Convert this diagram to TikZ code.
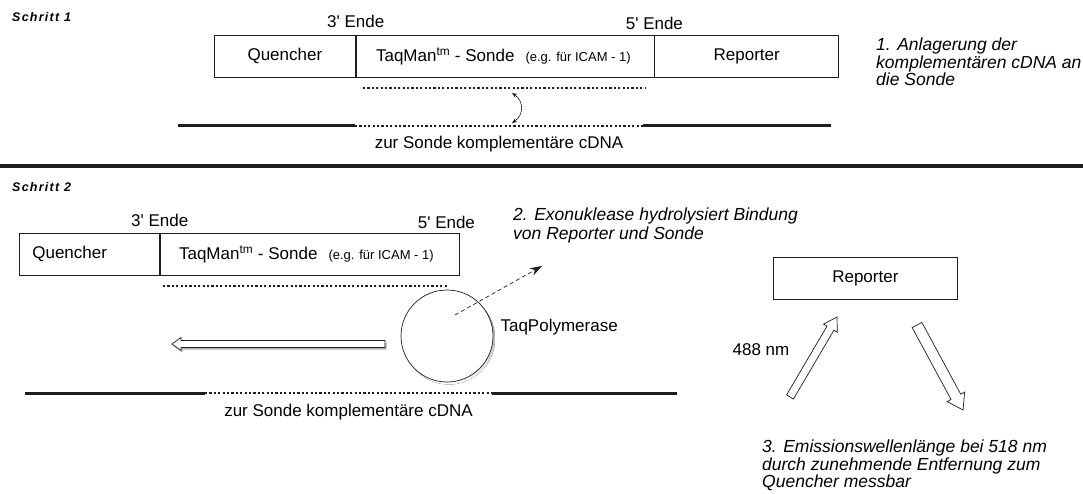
\documentclass[tikz,border=0pt]{standalone}
\usepackage{fontspec}
\setmainfont{Liberation Sans}
\usetikzlibrary{arrows.meta,positioning,calc}
\definecolor{ink}{HTML}{1E1E1E}
\definecolor{shade}{HTML}{B4B4B4}
\newcommand{\fsN}{\fontsize{17}{17.5}\selectfont}
\newcommand{\fsI}{\fontsize{17.5}{17.5}\selectfont\itshape}
\newcommand{\fsS}{\fontsize{13}{15}\selectfont}
\newcommand{\fsT}{\fontsize{12.5}{14}\selectfont\bfseries\itshape\addfontfeature{LetterSpace=10}}
\newcommand{\sonde}{TaqMan\textsuperscript{tm} - Sonde\hspace{11pt}{\fsS(e.g. für ICAM - 1)}}

% hollow block arrow: [style]{from}{to}{shaft half width}{head half width}{head length}
\newcommand{\hollowarrow}[6][hollow]{%
  \coordinate (#3-base) at ($(#3)!#6!(#2)$);
  \draw[#1] ($(#2)!#4!90:(#3)$) -- ($(#3-base)!#4!-90:(#2)$) -- ($(#3-base)!#5!-90:(#2)$)
    -- (#3) -- ($(#3-base)!#5!90:(#2)$) -- ($(#3-base)!#4!90:(#2)$) -- ($(#2)!#4!-90:(#3)$) -- cycle;}

\begin{document}
\begin{tikzpicture}[x=1pt, y=-1pt,
  box/.style={draw=ink, line width=0.7pt, minimum height=42pt, inner sep=0pt, font=\fsN},
  lab/.style={inner sep=0pt, font=\fsN},
  note/.style={inner sep=0pt, font=\fsI, align=left, anchor=north west},
  stepl/.style={inner sep=0pt, font=\fsT, anchor=west},
  strand/.style={ink, line width=3pt},
  probe/.style={ink, line width=1.3pt, dash pattern=on 2.2pt off 2.2pt},
  pair/.style={{Stealth[length=5pt,width=4pt]}-{Stealth[length=5pt,width=4pt]}, ink, line width=0.6pt},
  cutarr/.style={-{Stealth[length=12pt,width=8pt]}, ink, line width=0.7pt, dash pattern=on 4pt off 3pt},
  hollow/.style={draw=ink, fill=white, line width=0.7pt, line join=miter},
  shadowed/.style={draw=none, fill=shade, transform canvas={shift={(1.5,2)}}}]

\useasboundingbox (0,0) rectangle (1083,494);

% ================================================================ Schritt 1
\node[stepl] (s1) at (12,17) {Schritt 1};

% ---- probe with quencher and reporter ---------------------------------
\node[box, minimum width=141pt, anchor=north west] (q1) at (214,35) {Quencher};
\node[box, minimum width=298pt, anchor=west, inner xsep=20pt]
  (t1) at (q1.east) {\makebox[258pt][l]{\sonde}};
\node[box, minimum width=184pt, anchor=west] (r1) at (t1.east) {Reporter};
\node[lab, above=7pt of q1.north east] (e31) {3\textquotesingle{} Ende};
\node[lab, above=5pt of t1.north east] (e51) {5\textquotesingle{} Ende};

% ---- strands ------------------------------------------------------------
\coordinate (u1a) at (363,88);  \coordinate (u1b) at (645,88);
\coordinate (c1a) at (178,126); \coordinate (c1b) at (355,126);
\coordinate (c1c) at (643,126); \coordinate (c1d) at (831,126);
\draw[probe] (u1a) -- (u1b);
\draw[strand] (c1a) -- (c1b);
\draw[probe] (c1b) -- (c1c);
\draw[strand] (c1c) -- (c1d);
\node[lab, below=10pt] (cdna1) at ($(c1b)!0.5!(c1c)$) {zur Sonde komplementäre cDNA};

\coordinate (h1t) at (512,93); \coordinate (h1b) at (512,123);
\draw[pair] (h1t) .. controls (524,101) and (524,115) .. (h1b);

\node[note] (n1) at (876,38) {1. Anlagerung der\\komplementären cDNA an\\die Sonde};

% ---- separator ----------------------------------------------------------
\coordinate (sepl) at (0,166); \coordinate (sepr) at (1083,166);
\draw[ink, line width=4pt] (sepl) -- (sepr);

% ================================================================ Schritt 2
\node[stepl] (s2) at (12,187) {Schritt 2};

\node[box, minimum width=140pt, anchor=north west, inner xsep=13pt]
  (q2) at (19,233) {\makebox[114pt][l]{Quencher}};
\node[box, minimum width=299pt, anchor=west, inner xsep=19pt]
  (t2) at (q2.east) {\makebox[261pt][l]{\sonde}};
\node[lab, above=6pt of q2.north east] (e32) {3\textquotesingle{} Ende};
\node[lab, above=4pt of t2.north east, xshift=-13pt] (e52) {5\textquotesingle{} Ende};

\coordinate (u2a) at (163,286); \coordinate (u2b) at (447,286);
\draw[probe] (u2a) -- (u2b);

% ---- polymerase -----------------------------------------------------------
\coordinate (polc) at (447,336);
\fill[shade] ($(polc)+(2,2.5)$) circle[radius=46];
\node[circle, draw=ink, fill=white, line width=0.7pt, minimum size=92pt, inner sep=0pt] (taq) at (polc) {};
\node[lab, right=7pt of taq.east, yshift=9pt] (taql) {TaqPolymerase};
\coordinate (exo) at (542,266);
\draw[cutarr] ($(taq.center)+(8,-21)$) -- (exo);

\coordinate (mva) at (385,344); \coordinate (mvb) at (172,344);
\hollowarrow[shadowed]{mva}{mvb}{3.5pt}{6.5pt}{9pt}
\hollowarrow{mva}{mvb}{3.5pt}{6.5pt}{9pt}

\coordinate (c2a) at (25,393);  \coordinate (c2b) at (205,393);
\coordinate (c2c) at (492,393); \coordinate (c2d) at (677,393);
\draw[strand] (c2a) -- (c2b);
\draw[probe] (c2b) -- (c2c);
\draw[strand] (c2c) -- (c2d);
\node[lab, below=10.5pt] (cdna2) at ($(c2b)!0.5!(c2c)$) {zur Sonde komplementäre cDNA};

\node[note] (n2) at (513,208) {2. Exonuklease hydrolysiert Bindung\\[1.5pt]von Reporter und Sonde};

% ---- free reporter ----------------------------------------------------------
\node[box, minimum width=184pt, anchor=north west] (r2) at (773,257) {Reporter};
\coordinate (exa) at (790,397); \coordinate (exb) at (837,317);
\hollowarrow{exa}{exb}{4pt}{8pt}{13pt}
\coordinate (ema) at (917,325); \coordinate (emb) at (963,410);
\hollowarrow{ema}{emb}{5.5pt}{10pt}{15pt}
\node[lab] (ex) at (761,350) {488 nm};

\node[note] (n3) at (762,440) {3. Emissionswellenlänge bei 518 nm\\durch zunehmende Entfernung zum\\Quencher messbar};

\end{tikzpicture}
\end{document}
